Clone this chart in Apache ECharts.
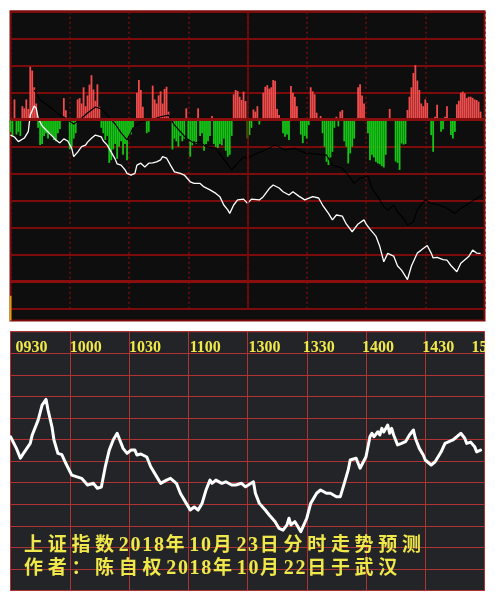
<!DOCTYPE html>
<html>
<head>
<meta charset="utf-8">
<script src="https://cdn.jsdelivr.net/npm/echarts@6/dist/echarts.min.js"></script>
<style>
  html, body { margin: 0; padding: 0; background: #ffffff; }
  #chart { width: 495px; height: 601px; }
</style>
</head>
<body>
<div id="chart"></div>
<script>
// Session minutes: 0 = 09:30, 120 = 11:30 / 13:00, 240 = 15:00
const timeLabels = ['0930', '1000', '1030', '1100', '1300', '1330', '1400', '1430', '1500'];

// Minute money-flow bars (positive = inflow, negative = outflow)
const flow = [
  [0,-0.45],[1,-0.6],[2,0.75],[3,-0.55],[4,-0.45],[5,-0.6],[6,0.5],[7,0.42],[8,0.75],[9,0.4],
  [10,1.96],[11,1.82],[12,1.2],[13,0.6],
  [14,-0.3],[15,-0.94],[16,-0.9],[17,-0.6],[18,-0.5],[19,-0.7],[20,-0.5],[21,-0.6],[22,-0.75],[23,-0.8],[24,-0.5],[25,-0.35],
  [27,0.8],[28,0.35],
  [30,-1.1],[31,-1.0],[32,-0.7],[33,-0.5],
  [34,0.75],[35,0.8],[36,0.6],[37,1.2],[38,0.5],[39,0.9],[40,1.3],[41,1.65],[42,1.12],[43,0.7],[44,1.31],[45,0.48],
  [46,-0.3],[47,-0.5],[48,-0.75],[49,-0.6],[50,-1.6],[51,-1.5],[52,-1.1],[53,-0.9],[54,-1.45],[55,-1.0],[56,-0.8],
  [57,-1.3],[58,-0.9],[59,-1.5],[60,-0.6],[61,-0.55],[62,-0.3],
  [64,1.0],[65,1.47],[66,1.1],[67,0.48],
  [69,-0.5],[70,-0.45],
  [72,1.26],[73,0.75],[74,0.6],[75,0.9],[76,1.05],[77,0.6],[78,1.14],[79,1.22],[80,0.3],
  [82,-1.1],[83,-0.7],[84,-0.8],[85,-1.0],[86,-0.6],[87,-0.8],[88,-0.7],[89,0.42],[90,-0.75],[91,-1.37],
  [92,-0.95],[93,-0.8],[94,-0.9],[95,0.42],[96,-0.6],[97,-0.5],[98,-1.15],[99,-0.9],[100,-0.8],[101,-0.6],
  [102,0.14],[103,-0.9],[104,-1.0],[105,-1.05],[106,-0.9],[107,-0.95],[108,-0.7],[109,-1.15],[110,-1.37],[111,-1.3],[112,-0.6],
  [113,0.94],[114,1.1],[115,1.06],[116,0.85],[117,0.73],[118,1.04],[119,0.69],
  [120,-0.69],[121,-0.57],[122,-0.3],[123,0.38],[124,0.3],[125,0.5],[126,-0.18],
  [128,1.0],[129,1.22],[130,1.28],[131,1.15],[132,1.2],[133,1.47],[134,1.44],[135,0.4],[136,0.17],
  [138,-0.5],[139,-0.63],[140,-0.55],[141,-0.75],
  [142,1.25],[143,1.0],[144,0.85],[145,0.5],
  [147,-0.55],[148,-0.87],[149,-0.6],[150,-0.7],[151,-0.2],
  [152,1.2],[153,1.05],[154,0.94],[155,0.26],[157,0.14],
  [158,-0.5],[159,-1.0],[160,-1.56],[161,-1.68],[162,-1.4],[163,-1.19],[164,-0.3],[165,0.11],[166,-0.25],[167,0.3],[168,0.36],
  [169,-0.8],[170,-1.0],[171,-1.62],[172,-1.25],[173,-1.0],[174,-0.7],
  [176,1.2],[177,1.31],[178,0.9],[179,0.6],
  [181,-0.5],[182,-1.5],[183,-1.3],[184,-1.4],[185,-1.56],[186,-1.62],[187,-1.65],[188,-1.72],[189,-1.77],[190,-1.3],
  [192,0.4],
  [195,-1.55],[196,-1.6],[197,-1.86],[198,-0.88],[199,-0.92],[200,-0.9],
  [201,0.36],[202,0.85],[203,1.2],[204,1.73],[205,2.02],[206,1.45],[207,1.1],[208,0.6],[209,0.5],[210,0.75],[211,0.62],
  [213,-0.57],[214,-1.19],[215,0.11],[216,0.55],
  [218,-0.45],[219,-0.35],[220,0.11],[221,0.5],
  [223,-0.57],[224,-0.7],[225,-0.45],
  [226,0.57],[227,0.7],[228,1.0],[229,1.04],[230,0.98],[231,0.8],[232,0.85],[233,0.85],[234,0.81],[235,0.75],[236,0.73],[237,0.67],[238,0.3]
];

// Index price track (white) on the same relative scale
const indexLine = [
  [0,-0.57],[2,-0.64],[4,-0.81],[5,-0.86],[7,-0.68],[9,-0.44],[10,0.17],[12,0.51],[13,0.43],[14,0.06],[16,-0.23],
  [18,-0.38],[21,-0.6],[23,-0.75],[25,-0.86],[27,-0.71],[29,-0.79],[31,-1.06],[32,-1.37],[34,-1.2],[36,-1.0],
  [38,-0.94],[39,-0.83],[41,-0.69],[43,-0.57],[44,-0.53],[46,-0.64],[47,-0.79],[49,-0.94],[51,-1.2],[53,-1.46],
  [54,-1.64],[56,-1.68],[58,-1.86],[59,-1.99],[60,-2.05],[61,-2.05],[63,-1.99],[64,-1.68],[65,-1.64],[66,-1.61],
  [68,-1.75],[69,-1.8],[70,-1.61],[72,-1.6],[74,-1.56],[76,-1.49],[77,-1.37],[79,-1.42],[81,-1.68],[83,-1.93],
  [86,-1.99],[88,-2.05],[91,-2.3],[93,-2.36],[96,-2.36],[98,-2.49],[101,-2.6],[104,-2.73],[106,-2.85],[108,-3.16],
  [110,-3.34],[111,-3.47],[113,-3.16],[115,-2.97],[118,-2.94],[120,-3.1],[122,-2.94],[126,-2.97],[128,-2.85],
  [131,-2.55],[133,-2.42],[136,-2.53],[138,-2.67],[141,-2.79],[143,-2.67],[146,-2.83],[149,-2.97],[153,-2.85],
  [156,-2.9],[158,-3.16],[161,-3.47],[163,-3.71],[165,-3.53],[168,-3.57],[170,-3.86],[173,-4.15],[176,-3.86],
  [179,-3.71],[180,-3.86],[182,-4.05],[185,-4.31],[187,-4.7],[189,-5.26],[191,-4.95],[194,-5.05],[196,-5.42],
  [198,-5.57],[201,-5.92],[203,-5.42],[206,-4.94],[208,-4.83],[211,-4.66],[213,-4.94],[214,-5.12],[216,-5.1],
  [219,-5.18],[221,-5.2],[223,-5.4],[226,-5.63],[228,-5.32],[232,-5.07],[234,-4.83],[236,-4.94],[238,-4.95]
];

// Leading indicator (black)
const leadLine = [
  [12,1.1],[15,0.73],[20,0.47],[25,0.17],[28,0.05],[32,-0.16],[35,-0.01],[39,0.25],[43,0.47],[46,0.4],[49,0.17],
  [53,-0.16],[56,-0.49],[59,-0.75],[62,-0.32],[66,-0.07],[71,-0.01],[76,0.11],[80,0.17],[83,-0.2],[86,-0.44],
  [89,-0.69],[93,-0.87],[96,-0.83],[99,-1.0],[104,-1.06],[109,-1.56],[112,-1.86],[115,-1.61],[118,-1.38],
  [120,-1.43],[124,-1.27],[129,-1.12],[134,-0.94],[139,-1.12],[144,-1.06],[149,-1.23],[154,-1.27],[160,-1.31],
  [163,-1.68],[168,-1.8],[171,-2.05],[174,-2.36],[177,-2.17],[181,-2.09],[183,-2.54],[186,-2.85],[189,-3.22],
  [191,-3.36],[194,-3.16],[196,-3.42],[199,-3.65],[201,-3.9],[204,-3.78],[206,-3.34],[210,-2.97],[213,-3.1],
  [217,-3.16],[221,-3.28],[225,-3.47],[228,-3.28],[232,-3.1],[236,-2.91],[239,-2.79]
];

// Opening-minute volume
const openVolume = [[0, 0.66]];

// Forecast intraday path for 2018-10-23
const forecast = [
  [0,7.13],[3,6.59],[5,6.14],[7,6.42],[10,6.82],[11,7.21],[14,7.9],[16,8.6],[18,8.86],[19,8.37],[21,7.59],
  [22,6.98],[24,6.36],[26,6.3],[28,5.9],[31,5.35],[32,5.43],[36,5.2],[39,4.89],[42,4.97],[44,4.74],[46,4.8],
  [48,5.74],[50,6.51],[52,6.98],[54,7.29],[55,7.06],[57,6.59],[59,6.36],[61,6.51],[63,6.51],[64,6.28],[66,6.33],
  [69,6.19],[71,5.74],[74,5.28],[76,4.97],[79,5.12],[81,5.2],[84,4.97],[86,4.51],[89,4.04],[91,3.73],[93,3.87],
  [95,3.73],[97,4.04],[99,4.66],[101,5.12],[102,4.97],[104,5.12],[107,4.97],[109,5.04],[112,4.89],[114,4.89],
  [117,4.97],[119,4.81],[120,4.81],[123,5.04],[124,4.51],[126,4.04],[129,3.73],[131,3.5],[134,3.19],[136,2.88],
  [138,2.8],[140,3.04],[141,3.35],[142,3.04],[144,3.19],[145,3.04],[147,2.73],[150,3.35],[152,4.04],[155,4.51],
  [157,4.66],[160,4.51],[162,4.51],[165,4.35],[167,4.35],[169,4.97],[171,5.59],[172,6.05],[175,6.13],[177,5.67],
  [180,6.2],[182,7.13],[183,7.29],[184,7.13],[186,7.36],[187,7.21],[188,7.52],[189,7.35],[191,7.67],[192,7.29],
  [193,7.52],[194,7.21],[196,6.75],[198,6.82],[200,6.9],[202,7.21],[204,7.44],[205,7.06],[207,6.59],[209,6.28],
  [210,6.05],[213,5.82],[215,5.97],[218,6.42],[220,6.82],[224,6.98],[226,7.13],[228,7.29],[230,7.06],[231,6.82],
  [233,6.88],[235,6.67],[236,6.43],[238,6.51]
];

const captionLines = ['上证指数2018年10月23日分时走势预测', '作者：陈自权2018年10月22日于武汉'];

// ---- styling ----
const TOP_BG = '#0e0e0e';
const TOP_GRID = '#7c0b0b';
const BOTTOM_BG = '#232427';
const BOTTOM_GRID = '#b03333';
const YELLOW = '#f0e84a';
const PANEL_LEFT = 10.5, PANEL_WIDTH = 474;

// horizontal nudge of each time label relative to its grid line (px)
const labelShift = [5, 0, 0, 1, 1, -4, -4, -3, -13];
const LABEL_W = 32;
const labelRich = {};
labelShift.forEach((d, i) => {
  const diff = 2 * d + LABEL_W;
  labelRich['t' + i] = {
    fontFamily: '"Liberation Serif", "DejaVu Serif", serif',
    fontWeight: 'bold',
    fontSize: 16,
    color: YELLOW,
    padding: diff >= 0 ? [0, 0, 0, diff] : [0, -diff, 0, 0]
  };
});

// caption characters laid out one by one (wide spacing like the original board)
function captionGraphics(text, x0, midY) {
  const out = [];
  let x = x0;
  for (const ch of text) {
    const digit = /[0-9]/.test(ch);
    out.push({
      type: 'text',
      x: x,
      y: digit ? midY + 2 : midY,
      z: 100,
      silent: true,
      style: {
        text: ch,
        fill: YELLOW,
        font: digit ? 'bold 20px "Liberation Serif", serif' : 'bold 19px "Noto Sans CJK SC"',
        align: 'left',
        verticalAlign: 'middle'
      }
    });
    x += digit ? 11.7 : 23.7;
  }
  return out;
}

const graphics = [].concat(
  captionGraphics(captionLines[0], 24, 544),
  captionGraphics(captionLines[1], 24, 567),
  [{
    type: 'rect', z: 100, silent: true,
    shape: { x: 485.2, y: 328, width: 12, height: 266 },
    style: { fill: '#ffffff' }
  }]
);

const hiddenX = (g) => ({ type: 'value', gridIndex: g, min: 0, max: 240, show: false });
const hiddenY = (g, min, max) => ({ type: 'value', gridIndex: g, min, max, show: false });

const option = {
  backgroundColor: '#ffffff',
  animation: false,
  grid: [
    // top panel frame
    { left: PANEL_LEFT, top: 11.2, width: PANEL_WIDTH, height: 309.3, show: true,
      backgroundColor: TOP_BG, borderColor: TOP_GRID, borderWidth: 2, outerBoundsMode: 'none' },
    // flow + price area
    { left: PANEL_LEFT, top: 11.7, width: PANEL_WIDTH, height: 297, outerBoundsMode: 'none' },
    // volume strip
    { left: PANEL_LEFT, top: 283, width: PANEL_WIDTH, height: 37.5, outerBoundsMode: 'none' },
    // forecast panel
    { left: PANEL_LEFT, top: 331.7, width: PANEL_WIDTH, height: 258.8, show: true,
      backgroundColor: BOTTOM_BG, borderColor: BOTTOM_GRID, borderWidth: 1, outerBoundsMode: 'none' }
  ],
  xAxis: [
    hiddenX(0),
    {
      type: 'value', gridIndex: 1, min: 0, max: 240, interval: 30,
      axisLine: { show: false }, axisTick: { show: false }, axisLabel: { show: false },
      splitLine: { show: true, lineStyle: { color: TOP_GRID, width: 1.5, type: [2, 3] } }
    },
    hiddenX(2),
    {
      type: 'value', gridIndex: 3, min: 0, max: 240, interval: 30, position: 'top',
      axisLine: { show: false }, axisTick: { show: false },
      axisLabel: {
        show: true, inside: true, margin: 8, align: 'center',
        showMinLabel: true, showMaxLabel: true,
        formatter: (v) => {
          const i = Math.round(v / 30);
          return '{t' + i + '|' + timeLabels[i] + '}';
        },
        rich: labelRich
      },
      splitLine: { show: true, lineStyle: { color: BOTTOM_GRID, width: 1 } }
    }
  ],
  yAxis: [
    hiddenY(0, 0, 1),
    {
      type: 'value', gridIndex: 1, min: -7, max: 4, interval: 1,
      axisLine: { show: false }, axisTick: { show: false }, axisLabel: { show: false },
      splitLine: { show: true, lineStyle: { color: TOP_GRID, width: 2 } }
    },
    hiddenY(2, 0, 1),
    {
      type: 'value', gridIndex: 3, min: 0, max: 12, interval: 1,
      axisLine: { show: false }, axisTick: { show: false }, axisLabel: { show: false },
      splitLine: { show: true, lineStyle: { color: BOTTOM_GRID, width: 1 } }
    }
  ],
  graphic: graphics,
  series: [
    {
      name: 'flow', type: 'bar', xAxisIndex: 1, yAxisIndex: 1,
      data: flow, barWidth: 1.8, z: 2,
      itemStyle: { color: (p) => (p.value[1] >= 0 ? '#f24b4b' : '#16c416') },
      markLine: {
        silent: true, symbol: 'none', label: { show: false },
        data: [
          { yAxis: 0, lineStyle: { color: '#8a0e0e', width: 3, type: 'solid' } },
          { yAxis: -6, lineStyle: { color: '#8a0e0e', width: 3, type: 'solid' } },
          { xAxis: 120, lineStyle: { color: TOP_GRID, width: 1.5, type: 'solid' } }
        ]
      }
    },
    {
      name: 'lead', type: 'line', xAxisIndex: 1, yAxisIndex: 1,
      data: leadLine, showSymbol: false, z: 3,
      lineStyle: { color: '#000000', width: 1.2 }
    },
    {
      name: 'index', type: 'line', xAxisIndex: 1, yAxisIndex: 1,
      data: indexLine, showSymbol: false, z: 4,
      lineStyle: { color: '#ffffff', width: 1.3 }
    },
    {
      name: 'volume', type: 'bar', xAxisIndex: 2, yAxisIndex: 2,
      data: openVolume, barWidth: 2, clip: false,
      itemStyle: { color: '#d9a012' }
    },
    {
      name: 'forecast', type: 'line', xAxisIndex: 3, yAxisIndex: 3,
      data: forecast, showSymbol: false, z: 4,
      lineStyle: { color: '#ffffff', width: 3, join: 'round', cap: 'round' }
    }
  ]
};

const chart = echarts.init(document.getElementById('chart'));
chart.setOption(option);
</script>
</body>
</html>
